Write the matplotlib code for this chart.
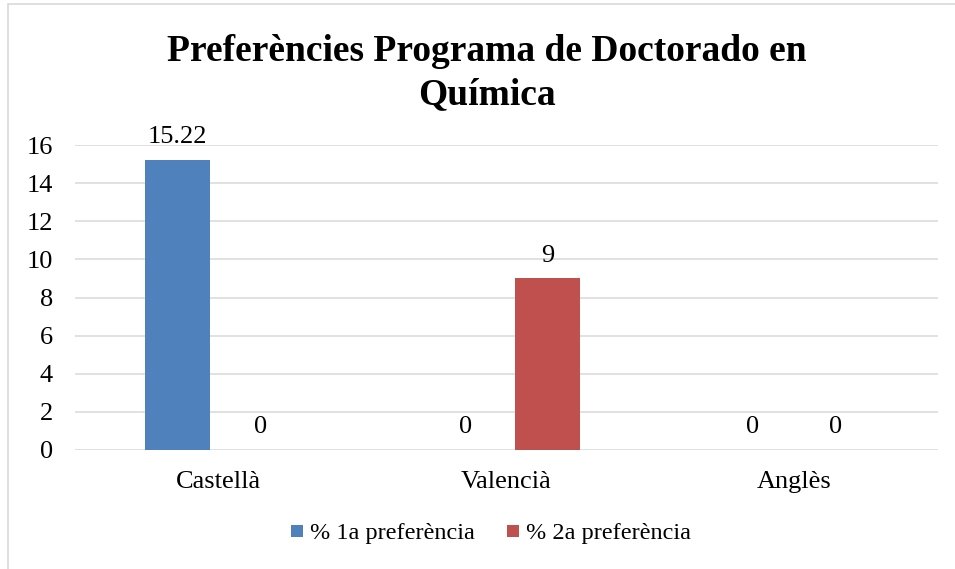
import matplotlib
matplotlib.use("Agg")
import matplotlib.pyplot as plt
import numpy as np
from matplotlib.patches import Rectangle
from matplotlib.lines import Line2D

categories = ["Castellà", "Valencià", "Anglès"]
series_names = ["% 1a preferència", "% 2a preferència"]
pref1 = [15.22, 0, 0]
pref2 = [0, 9, 0]
label1 = ["15.22", "0", "0"]
label2 = ["0", "9", "0"]
colors = ["#4F81BD", "#C0504D"]
yticks = [0, 2, 4, 6, 8, 10, 12, 14, 16]

plt.rcParams['font.family'] = ['Liberation Serif', 'DejaVu Serif']

fig = plt.figure(figsize=(9.55, 5.69), dpi=100)
ax = fig.add_axes([75/955, 1-450/569, (938-75)/955, (450-145)/569])

x = np.arange(len(categories))
w = 0.226
off = 0.144
b1 = ax.bar(x - off, pref1, w, color=colors[0], label=series_names[0], zorder=3)
b2 = ax.bar(x + off, pref2, w, color=colors[1], label=series_names[1], zorder=3)

for bars, labs in ((b1, label1), (b2, label2)):
    for r, t in zip(bars, labs):
        ax.annotate(t, (r.get_x() + r.get_width()/2, r.get_height()),
                    xytext=(0, 8.5), textcoords="offset points",
                    ha="center", va="bottom", fontsize=19, color="#000000")

ax.set_xlim(-0.5, 2.5)
ax.set_ylim(0, 16)
ax.set_yticks(yticks)
ax.set_yticklabels([str(v) for v in yticks], fontsize=19)
ax.set_xticks(x)
ax.set_xticklabels(categories, fontsize=19)
ax.tick_params(axis='x', length=0, pad=15)
ax.tick_params(axis='y', length=0, pad=16)
for s in ax.spines.values():
    s.set_visible(False)
ax.grid(axis='y', color="#D9D9D9", linewidth=1.1, zorder=0)
ax.set_axisbelow(True)

fig.text(487/955, 1-73/569, "Preferències Programa de Doctorado en\nQuímica",
         ha="center", va="center", fontsize=27, fontweight="bold", linespacing=1.3)

handles = [Line2D([], [], marker='s', linestyle='', markersize=8, color=c,
                  markeredgewidth=0) for c in colors]
leg = fig.legend(handles=handles, labels=series_names, loc="center",
                 bbox_to_anchor=(491/955, 1-533/569), ncol=2, frameon=False,
                 fontsize=17.5, handlelength=0.45,
                 handletextpad=0.3, columnspacing=1.35)

fig.patches.append(Rectangle((8/955, -0.05), 1.1, 1.05 - 4/569, transform=fig.transFigure,
                             fill=False, edgecolor="#D9D9D9", linewidth=1.2, clip_on=False))

fig.savefig("out.png", dpi=100)
